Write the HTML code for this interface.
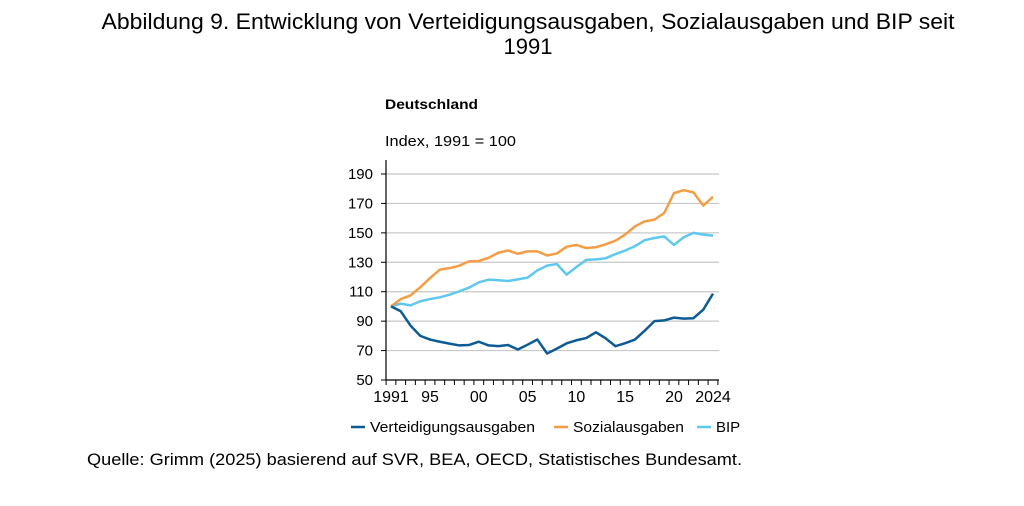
<!DOCTYPE html>
<html><head><meta charset="utf-8"><style>
body{margin:0;background:#fff;width:1024px;height:506px;overflow:hidden;font-family:"Liberation Sans",sans-serif}
svg{position:absolute;left:0;top:0}
</style></head><body>
<svg width="1024" height="506">
<text x="528" y="29" text-anchor="middle" font-size="22" textLength="853" lengthAdjust="spacingAndGlyphs">Abbildung 9. Entwicklung von Verteidigungsausgaben, Sozialausgaben und BIP seit</text>
<text x="528" y="54" text-anchor="middle" font-size="22">1991</text>
<text x="385" y="109" font-size="14" font-weight="bold" textLength="93" lengthAdjust="spacingAndGlyphs">Deutschland</text>
<text x="385" y="146" font-size="15" textLength="131" lengthAdjust="spacingAndGlyphs">Index, 1991 = 100</text>
<g id="grid"></g><g id="axes"></g><g id="lines"></g>
<g>
<line x1="351" y1="427" x2="365" y2="427" stroke="#0d5b94" stroke-width="2.5"/>
<text x="370" y="432" font-size="15" textLength="165" lengthAdjust="spacingAndGlyphs">Verteidigungsausgaben</text>
<line x1="554" y1="427" x2="568" y2="427" stroke="#f59d45" stroke-width="2.5"/>
<text x="573" y="432" font-size="15" textLength="111" lengthAdjust="spacingAndGlyphs">Sozialausgaben</text>
<line x1="697" y1="427" x2="711" y2="427" stroke="#5ec8ee" stroke-width="2.5"/>
<text x="716" y="432" font-size="15">BIP</text>
</g>
<text x="87" y="465" font-size="17" textLength="655" lengthAdjust="spacingAndGlyphs">Quelle: Grimm (2025) basierend auf SVR, BEA, OECD, Statistisches Bundesamt.</text>
</svg>
<script>
const years=[];for(let y=1991;y<=2024;y++)years.push(y);
const yTicks=[50,70,90,110,130,150,170,190];
const xTickLabels=[[1991,"1991"],[1995,"95"],[2000,"00"],[2005,"05"],[2010,"10"],[2015,"15"],[2020,"20"],[2024,"2024"]];
const verteidigung=[100,96.7,87,80,77.5,76,74.7,73.5,73.8,76,73.5,73,73.8,70.7,74,77.5,68,71.3,74.9,77,78.5,82.4,78.3,73,75,77.5,83.5,90,90.5,92.4,91.7,92,97.8,108.7];
const sozial=[100,105,107.5,113,119.3,125,126,127.7,130.6,130.9,133,136.5,138,135.8,137.4,137.4,134.6,136,140.6,141.8,139.7,140.2,142.2,144.7,148.8,154.4,157.8,159,163.5,177,179,177.5,168.5,174.6];
const bip=[100,101.9,100.7,103.5,105,106.2,108,110.3,112.8,116.4,118.2,117.8,117.3,118.4,119.6,124.5,127.7,128.8,121.6,126.8,131.6,132,132.7,135.6,138,140.9,145,146.5,147.6,141.8,147,150,148.8,148.1];
const NS="http://www.w3.org/2000/svg";
const X=y=>391+(y-1991)*(713-391)/33;
const Y=v=>380-(v-50)*(380-174)/140;
function mk(t,a,p){const e=document.createElementNS(NS,t);for(const k in a)e.setAttribute(k,a[k]);if(p)p.appendChild(e);return e;}
const grid=document.getElementById('grid'),axes=document.getElementById('axes'),lines=document.getElementById('lines');
yTicks.forEach(v=>{
 if(v>50){const g=mk('line',{x1:386,x2:719,y1:Y(v),y2:Y(v),stroke:'#c8c8c8','stroke-width':1.2},grid);
 
 }
 mk('line',{x1:381,x2:386,y1:Y(v),y2:Y(v),stroke:'#000'},axes);
 const t=mk('text',{x:373,y:Y(v)+5,'text-anchor':'end','font-size':15},axes);t.textContent=v;
 
 
});
mk('line',{x1:386,x2:386,y1:160,y2:380,stroke:'#000','stroke-width':1.2},axes);
mk('line',{x1:386,x2:719,y1:380,y2:380,stroke:'#000','stroke-width':1.2},axes);
years.forEach(y=>mk('line',{x1:X(y)-4.9,x2:X(y)-4.9,y1:380,y2:385,stroke:'#000'},axes));
mk('line',{x1:X(2024)+4.9,x2:X(2024)+4.9,y1:380,y2:385,stroke:'#000'},axes);
xTickLabels.forEach(([y,l])=>{const t=mk('text',{x:X(y),y:402,'text-anchor':'middle','font-size':16},axes);t.textContent=l;
 
 });
function line(d,c,n){const p=mk('polyline',{points:d.map((v,i)=>X(years[i])+','+Y(v)).join(' '),fill:'none',stroke:c,'stroke-width':2.5,'stroke-linejoin':'round'},lines);
 
 }
line(bip,'#5ec8ee','line-bip');
line(sozial,'#f59d45','line-sozialausgaben');
line(verteidigung,'#0d5b94','line-verteidigungsausgaben');
</script>
</body></html>
